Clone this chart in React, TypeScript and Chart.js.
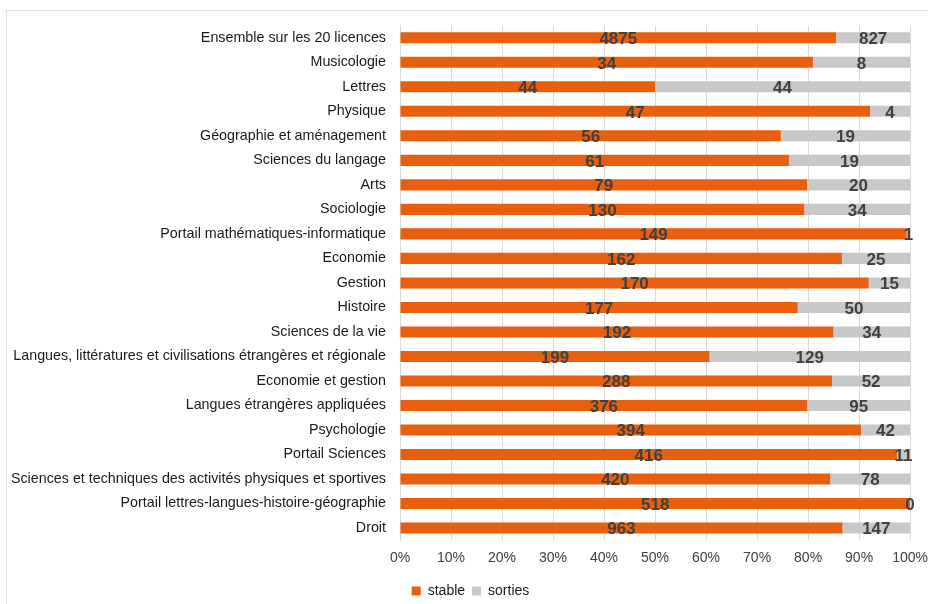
import React, { useEffect, useRef } from "react";
import { Chart, registerables } from "chart.js";

Chart.register(...registerables);

const categories = [
  "Ensemble sur les 20 licences",
  "Musicologie",
  "Lettres",
  "Physique",
  "Géographie et aménagement",
  "Sciences du langage",
  "Arts",
  "Sociologie",
  "Portail mathématiques-informatique",
  "Economie",
  "Gestion",
  "Histoire",
  "Sciences de la vie",
  "Langues, littératures et civilisations étrangères et régionale",
  "Economie et gestion",
  "Langues étrangères appliquées",
  "Psychologie",
  "Portail Sciences",
  "Sciences et techniques des activités physiques et sportives",
  "Portail lettres-langues-histoire-géographie",
  "Droit",
];

const stable = [4875, 34, 44, 47, 56, 61, 79, 130, 149, 162, 170, 177, 192, 199, 288, 376, 394, 416, 420, 518, 963];
const sorties = [827, 8, 44, 4, 19, 19, 20, 34, 1, 25, 15, 50, 34, 129, 52, 95, 42, 11, 78, 0, 147];

const xTicks = [0, 10, 20, 30, 40, 50, 60, 70, 80, 90, 100];

const FONT = "'Liberation Sans', Arial, sans-serif";

const totals = stable.map((s, i) => s + sorties[i]);
const stablePct = stable.map((s, i) => (s / totals[i]) * 100);
const sortiesPct = sorties.map((s, i) => (s / totals[i]) * 100);
const rawValues = [stable, sorties];

const labelPlugin = {
  id: "segLabels",
  afterDatasetsDraw(chart: any) {
    const ctx = chart.ctx;
    ctx.save();
    ctx.font = `bold 17px ${FONT}`;
    ctx.fillStyle = "#404040";
    ctx.textAlign = "center";
    ctx.textBaseline = "middle";
    chart.data.datasets.forEach((ds: any, di: number) => {
      const meta = chart.getDatasetMeta(di);
      meta.data.forEach((el: any, i: number) => {
        const p = el.getProps(["x", "y", "base"], true);
        const cx = (p.x + p.base) / 2;
        ctx.fillText(String(rawValues[di][i]), cx, p.y + 1.5);
      });
    });
    ctx.restore();
  },
};

export default function App() {
  const ref = useRef<HTMLCanvasElement>(null);
  useEffect(() => {
    document.body.style.overflow = "hidden";
    if (!ref.current) return;
    const chart = new Chart(ref.current, {
      type: "bar",
      data: {
        labels: categories,
        datasets: [
          { label: "stable", data: stablePct, backgroundColor: "#E8600F", borderWidth: 0 },
          { label: "sorties", data: sortiesPct, backgroundColor: "#C8C8C8", borderWidth: 0 },
        ],
      },
      options: {
        indexAxis: "y",
        animation: false,
        responsive: false,
        maintainAspectRatio: false,
        datasets: { bar: { barPercentage: 0.45, categoryPercentage: 1 } },
        layout: { padding: { top: 6, right: 4, left: 0, bottom: 1 } },
        scales: {
          x: {
            stacked: true,
            min: 0,
            max: 100,
            afterBuildTicks: (s: any) => {
              s.ticks = xTicks.map((v) => ({ value: v }));
            },
            ticks: {
              callback: (v: any) => v + "%",
              font: { family: FONT, size: 14 },
              color: "#404040",
              padding: 10,
              maxRotation: 0,
            },
            grid: { color: "#d9d9d9", drawTicks: false },
            border: { display: false },
          },
          y: {
            stacked: true,
            afterFit: (s: any) => {
              s.width = 393;
            },
            ticks: {
              font: { family: FONT, size: 14.3 },
              color: "#1a1a1a",
              padding: 6,
              autoSkip: false,
            },
            grid: { display: false },
            border: { display: true, color: "#d9d9d9" },
          },
        },
        plugins: {
          legend: {
            position: "bottom",
            labels: {
              boxWidth: 9,
              boxHeight: 9,
              padding: 7,
              font: { family: FONT, size: 14 },
              color: "#1a1a1a",
            },
          },
          tooltip: { enabled: false },
        },
      },
      plugins: [labelPlugin],
    });
    return () => chart.destroy();
  }, []);
  return (
    <div
      style={{
        position: "absolute",
        left: 6,
        top: 10,
        width: 940,
        height: 610,
        border: "1px solid #e0e0e0",
        overflow: "hidden",
        background: "#fff",
      }}
    >
      <canvas ref={ref} width={931} height={598} style={{ display: "block" }} />
    </div>
  );
}
